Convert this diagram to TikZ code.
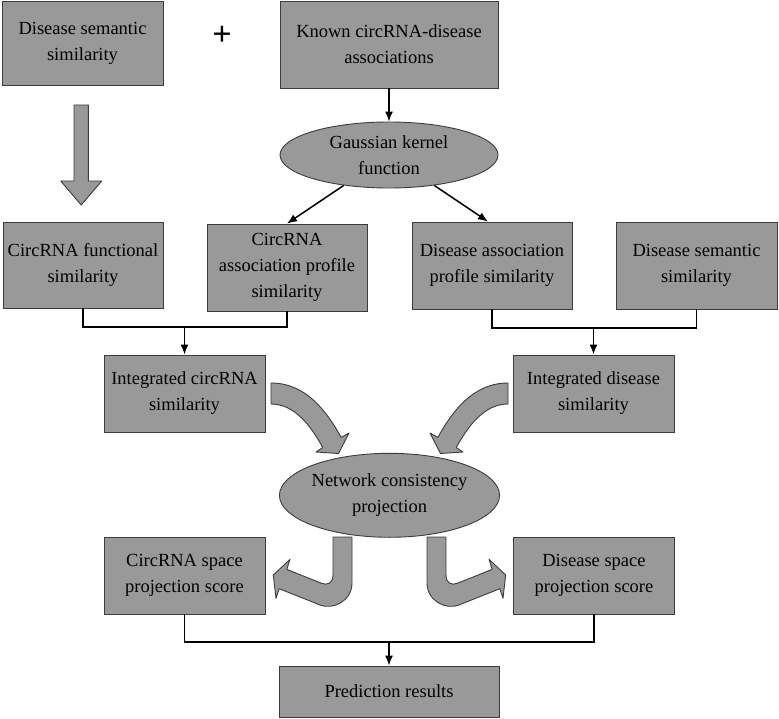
\documentclass[tikz,border=0pt]{standalone}
\usepackage{fontspec}
\setmainfont{Liberation Serif}
\usetikzlibrary{shapes.geometric,arrows.meta}
\definecolor{boxgray}{RGB}{153,153,153}
\definecolor{edgegray}{RGB}{60,60,60}
\begin{document}
\begin{tikzpicture}[x=1pt,y=-1pt,
  txt/.style={font=\fontsize{18.5}{26}\selectfont, align=center, text=black},
  box/.style={txt, draw=edgegray, fill=boxgray, line width=0.9pt, inner sep=0pt, rectangle},
  ell/.style={txt, draw=edgegray, fill=boxgray, line width=0.9pt, inner sep=0pt, ellipse},
  conn/.style={line width=1.5pt, draw=black},
  arr/.style={conn, -{Latex[length=10pt,width=8pt]}},
  fatarrow/.style={draw=edgegray, fill=boxgray, line width=0.9pt, line join=round}]
\useasboundingbox (0,0) rectangle (779,719);

% top row
\node[box, minimum width=161, minimum height=84] (dss1) at (82.5,43) {Disease semantic\\similarity};
\node[txt, font=\fontsize{34}{34}\selectfont\bfseries] (plus) at (222,36) {+};
\node[box, minimum width=218, minimum height=87] (known) at (389,44.5) {Known circRNA-disease\\associations};
\node[ell, minimum width=218, minimum height=66] (gauss) at (389,155) {Gaussian kernel\\function};

% big down arrow
\path[fatarrow] (74,105) -- (88.3,105) -- (88.3,181) -- (101.7,181) -- (81.2,205) -- (60.7,181) -- (74,181) -- cycle;

% second row
\node[box, minimum width=160, minimum height=86] (cfs) at (83,265) {CircRNA functional\\similarity};
\node[box, minimum width=160, minimum height=87] (caps) at (287,267.5) {CircRNA\\association profile\\similarity};
\node[box, minimum width=160, minimum height=87] (daps) at (492,265.5) {Disease association\\profile similarity};
\node[box, minimum width=161, minimum height=87] (dss2) at (696.5,265.5) {Disease semantic\\similarity};

\draw[arr] (known.south) -- (gauss.north);
\draw[arr] (gauss) -- (caps.north);
\draw[arr] (gauss) -- ([xshift=-4pt]daps.north);

% integrated
\node[box, minimum width=161, minimum height=77] (int1) at (184.5,393.5) {Integrated circRNA\\similarity};
\node[box, minimum width=161, minimum height=77] (int2) at (593.5,393.5) {Integrated disease\\similarity};

\coordinate (j1) at (184.5,327);
\coordinate (j2) at (593.5,328);
\draw[conn] (cfs.south) |- (j1) -| (caps.south);
\draw[arr] (j1) -- (int1.north);
\draw[conn] (daps.south) |- (j2) -| (dss2.south);
\draw[arr] (j2) -- (int2.north);

% network consistency projection
\node[ell, minimum width=218, minimum height=84] (ncp) at (389.5,495.3) {Network consistency\\projection};

% curved arrows into ncp
\path[fatarrow] (271,383) .. controls (306,383) and (326.6,411.2) .. (341.2,437.4) -- (349,433) -- (338.5,453.5) -- (316,452) -- (322.8,447.6) .. controls (312.1,428.4) and (296,404) .. (271,404) -- cycle;
\begin{scope}[xshift=779pt, xscale=-1]
\path[fatarrow] (271,383) .. controls (306,383) and (326.6,411.2) .. (341.2,437.4) -- (349,433) -- (338.5,453.5) -- (316,452) -- (322.8,447.6) .. controls (312.1,428.4) and (296,404) .. (271,404) -- cycle;
\end{scope}

% projection scores
\node[box, minimum width=161, minimum height=77] (csps) at (184.5,575.5) {CircRNA space\\projection score};
\node[box, minimum width=161, minimum height=77] (dsps) at (594,575.5) {Disease space\\projection score};

% hook arrows out of ncp
\path[fatarrow] (333,537) -- (352,537) -- (352,583) .. controls (352,601) and (333,610.2) .. (320,605) -- (279.2,588.7) -- (276,598.3) -- (273.3,575) -- (290,559.3) -- (286.8,569.4) -- (321.7,583.3) .. controls (327.3,585.5) and (333,583.5) .. (333,575) -- cycle;
\begin{scope}[xshift=779pt, xscale=-1]
\path[fatarrow] (333,537) -- (352,537) -- (352,583) .. controls (352,601) and (333,610.2) .. (320,605) -- (279.2,588.7) -- (276,598.3) -- (273.3,575) -- (290,559.3) -- (286.8,569.4) -- (321.7,583.3) .. controls (327.3,585.5) and (333,583.5) .. (333,575) -- cycle;
\end{scope}

% prediction
\node[box, minimum width=220, minimum height=51] (pred) at (389,691.5) {Prediction results};
\coordinate (j3) at (389,642);
\draw[conn] (csps.south) |- (j3) -| (dsps.south);
\draw[arr] (j3) -- (pred.north);
\end{tikzpicture}
\end{document}
